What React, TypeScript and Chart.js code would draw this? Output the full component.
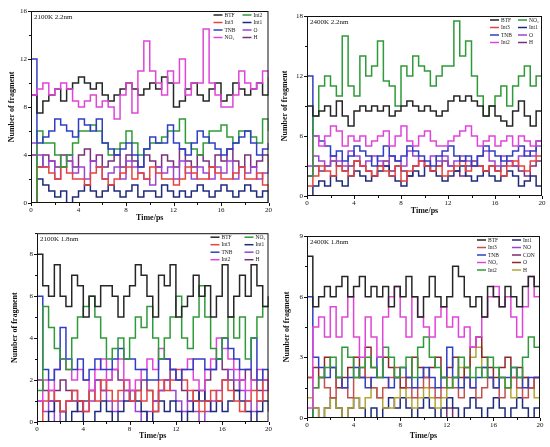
import React, { useEffect, useRef } from "react";
import { Chart, registerables } from "chart.js";
Chart.register(...registerables);

const FONT = "'Liberation Serif', 'Times New Roman', serif";

const times = [0, 0.5, 1, 1.5, 2, 2.5, 3, 3.5, 4, 4.5, 5, 5.5, 6, 6.5, 7, 7.5, 8, 8.5, 9, 9.5, 10, 10.5, 11, 11.5, 12, 12.5, 13, 13.5, 14, 14.5, 15, 15.5, 16, 16.5, 17, 17.5, 18, 18.5, 19, 19.5, 20];
const xTicks = [0, 4, 8, 12, 16, 20];

// Panel 1: 2100K 2.2nm
const p1BTF = [9, 7.5, 8.5, 9, 9.5, 8.5, 9.5, 10, 10.5, 10, 9.5, 10, 9, 8.5, 9, 9.5, 10, 9.5, 9, 9.5, 10, 9.5, 10.5, 10, 8, 8.5, 9.5, 10, 9, 8.5, 9.5, 10, 8.5, 9, 10, 9.5, 9, 9.5, 10, 9, 10.5];
const p1Int3 = [0, 3, 3, 2.5, 2, 3, 2.5, 2, 2, 1.5, 2.5, 3, 2, 1.5, 2, 2.5, 3, 2, 2.5, 2, 3, 2.5, 2, 2, 1.5, 2, 3, 2.5, 2, 2, 3, 2.5, 2, 2, 2.5, 3, 2, 2, 2.5, 1.5, 1];
const p1TNB = [12, 5, 5.5, 6, 7, 6.5, 6, 5.5, 7, 6.5, 6, 7, 5, 4.5, 4, 4.5, 5, 4, 3, 4.5, 5.5, 5, 5, 6.5, 5, 4.5, 4, 5, 6, 5.5, 5, 4.5, 4, 4.5, 5, 5.5, 6, 5, 4, 4.5, 5];
const p1NO2 = [9, 9.5, 10, 9, 9.5, 10, 9.5, 8.5, 8, 8.5, 9, 8, 8.5, 8, 7, 9, 10, 7.5, 11, 13.5, 11, 10, 9, 11, 10, 12, 9, 10, 10, 14.5, 10, 9, 8, 8, 9, 11, 10, 9.5, 10, 11, 10.5];
const p1Int2 = [0, 6, 5, 5, 4, 3, 4, 5, 6, 6, 6.5, 6, 5, 4, 4.5, 5, 6, 5, 4, 4.5, 5, 5, 5.5, 6, 6, 7, 5, 4.5, 4, 5, 6, 6, 6.5, 5.5, 5, 6, 6, 5.5, 5, 7, 6];
const p1Int1 = [0, 2, 1.5, 1, 0.5, 1, 0, 0.5, 1, 1.5, 1, 0.5, 1, 1.5, 1, 0.5, 1, 1.5, 0.5, 1, 1, 0.5, 1.5, 1, 0.5, 1, 0.5, 1, 1.5, 1, 0.5, 1, 1.5, 1, 0.5, 1, 1.5, 1, 0.5, 1, 0];
const p1O = [5, 4, 3, 3.5, 2, 3, 4, 2.5, 3, 2, 3.5, 3, 2, 2.5, 3, 2, 3.5, 3, 2.5, 2, 1.5, 3, 2.5, 3, 2, 3.5, 2.5, 2, 3, 2.5, 2, 3, 2.5, 3.5, 2, 3, 2.5, 3, 2, 2.5, 3];
const p1H = [4, 3, 4, 3.5, 3, 4, 3.5, 3, 4, 4.5, 3.5, 4, 3, 3.5, 4, 3, 4, 3.5, 3, 4, 3.5, 3, 4, 3.5, 3, 4.5, 3.5, 3, 4, 3.5, 3, 4, 3.5, 4.5, 3.5, 3, 4, 3, 3.5, 4, 3];

// Panel 2: 2400K 2.2nm
const p2BTF = [9, 8, 8.5, 9, 8, 9.5, 8, 7, 8.5, 9, 8.5, 9, 8.5, 9, 8, 8.5, 9, 9.5, 9, 8.5, 9, 8.5, 8, 8.5, 9.5, 10, 9.5, 10, 9.5, 9, 8, 9, 8, 7.5, 7, 8.5, 9.5, 8, 7, 8.5, 9];
const p2Int3 = [1, 2, 3, 2.5, 2, 3, 2.5, 2, 3.5, 3, 2.5, 2, 3, 2.5, 2, 3, 1.5, 2.5, 3, 3.5, 3, 2.5, 3, 2, 2.5, 3, 3.5, 2.5, 3, 3, 2.5, 3, 2.5, 2, 3, 3.5, 3, 2.5, 3.5, 4, 3];
const p2TNB = [12, 6, 5.5, 5, 4, 4.5, 3.5, 4, 5, 4.5, 4, 3, 4, 5, 4, 3.5, 4, 5, 4.5, 4, 3.5, 3, 4, 4.5, 5, 4, 3.5, 4, 3, 4, 5, 4.5, 4, 3.5, 4, 4.5, 5, 4, 4.5, 5.5, 5];
const p2Int2 = [2, 6, 5, 6, 7, 6.5, 5, 6, 5.5, 6, 5, 5.5, 6, 6.5, 5, 6, 7, 5.5, 5, 6, 6.5, 5.5, 5, 5, 5.5, 6, 6.5, 7, 6, 5, 5.5, 6, 5, 5.5, 6, 5, 6, 5.5, 5, 5.5, 6];
const p2NO2 = [2, 8, 11, 12, 11, 10, 16, 11, 10, 14, 12, 13, 15.5, 11.5, 11, 9, 13, 12, 14, 13, 12.5, 11, 12, 13, 13, 17.5, 14, 15.5, 12, 10, 8, 9, 10, 11, 9, 11, 12, 13, 11, 12, 12];
const p2Int1 = [0, 1, 1.5, 1, 2, 1.5, 1, 2, 2.5, 2, 1.5, 2, 2.5, 3, 2, 1.5, 1, 2, 2.5, 2, 3, 2.5, 2, 1.5, 2, 2.5, 3, 2, 1.5, 2, 2.5, 2, 1.5, 2, 2.5, 2, 1, 1.5, 2, 1, 0];
const p2O = [3, 4, 3.5, 3, 4, 3.5, 3, 4.5, 4, 3, 3.5, 4, 3.5, 3, 4, 3.5, 3, 4.5, 4, 3.5, 3, 4, 3.5, 4, 3, 3.5, 4, 3.5, 3, 4, 4.5, 3.5, 3, 4, 3.5, 3, 4, 4.5, 4, 5, 4];
const p2H = [2, 3, 2.5, 3, 3.5, 3, 2.5, 3, 3.5, 3, 2.5, 2, 3, 3.5, 2.5, 3, 2.5, 2, 3, 3.5, 3, 2.5, 3, 3.5, 3, 2.5, 2, 3, 3.5, 3, 2.5, 3, 2.5, 3, 3.5, 3, 2.5, 2, 3, 3.5, 3];

// Panel 3: 2100K 1.8nm
const p3BTF = [8, 6.5, 6, 7.5, 6, 5.5, 7, 6.5, 5, 6, 5.5, 6.5, 6.5, 6, 5, 6, 6.5, 7.5, 7, 6, 5, 7, 6.5, 7.5, 5, 5.5, 6, 7, 6, 6.5, 5, 6, 7.5, 5, 6, 7, 6, 7.5, 6.5, 5.5, 6];
const p3Int3 = [0, 1, 1.5, 1, 0.5, 1, 1.5, 1, 0.5, 1.5, 1, 2, 1.5, 1, 1.5, 2, 1, 1.5, 1, 1.5, 0.5, 2, 1.5, 2, 2.5, 2, 1.5, 1, 0.5, 1, 1.5, 1, 2, 1.5, 1, 0.5, 1, 1.5, 1, 2, 1];
const p3TNB = [6, 2.5, 2, 2.5, 4.5, 3, 2.5, 3, 2, 2.5, 3, 2.5, 2.5, 3, 3.5, 3, 3, 2.5, 2.5, 2, 2, 3, 3, 2.5, 2, 2.5, 2.5, 3, 3, 2.5, 2.5, 3, 4, 3.5, 3, 2.5, 2.5, 4, 2, 2.5, 2.5];
const p3Int2 = [1, 2, 1.5, 2.5, 3, 2.5, 2, 2.5, 2, 1.5, 2.5, 3, 2, 2.5, 3, 2, 1.5, 2, 2.5, 3, 2.5, 3.5, 3, 2.5, 2, 2.5, 3, 2, 1.5, 2.5, 3, 4, 3.5, 3, 2.5, 2, 1.5, 2, 2.5, 2, 1.5];
const p3NO2 = [1.5, 5.5, 4.5, 3.5, 3, 2.5, 4, 5, 5.5, 6, 5, 4, 3, 3.5, 4, 3, 4, 5, 4.5, 5.5, 4, 3, 4, 5, 6, 4, 3.5, 5, 6.5, 5, 3.5, 3, 4, 5, 4, 5, 3, 4, 5, 5.5, 6];
const p3Int1 = [0, 0, 0.5, 1, 0.5, 0, 0.5, 1, 0, 0, 0.5, 1, 0.5, 0, 0.5, 1, 1.5, 1, 0.5, 0, 0.5, 1, 0.5, 1, 0.5, 0, 0.5, 1, 1.5, 1, 0.5, 1, 0.5, 1, 1.5, 1, 0.5, 0, 0.5, 1, 0.5];
const p3O = [1, 0.5, 1, 0, 0.5, 1, 1.5, 1, 0.5, 1, 2, 1.5, 1, 0.5, 1, 1.5, 1, 0.5, 0, 0.5, 1, 1.5, 2, 1.5, 1, 0.5, 1, 0.5, 0, 0.5, 1, 1.5, 2, 2.5, 2, 1.5, 1, 0.5, 1, 1.5, 2];
const p3H = [2, 1.5, 1, 1.5, 2, 1.5, 1, 0.5, 1, 1.5, 2, 1.5, 2, 2.5, 2, 1.5, 1, 1.5, 2, 1.5, 1, 1.5, 2, 2.5, 2, 1.5, 1, 1.5, 1, 2, 2.5, 3, 2.5, 2, 1.5, 2, 2.5, 2, 1.5, 2, 2.5];

// Panel 4: 2400K 1.8nm
const p4BTF = [8, 5.5, 6, 6.5, 6, 6.5, 7, 6, 6.5, 7, 6, 6.5, 6, 6.5, 5.5, 6.5, 6, 7, 6, 5, 6, 7, 6, 5.5, 6, 7.5, 7, 6, 5.5, 6, 5, 6.5, 6, 5.5, 6.5, 6, 5.5, 6.5, 7, 6.5, 7];
const p4Int3 = [2, 1.5, 2, 1.5, 1, 2, 1.5, 1, 2, 2.5, 2, 1.5, 1, 1.5, 2, 2.5, 2, 1.5, 1, 1.5, 2, 1.5, 1, 1.5, 2, 1.5, 1, 2, 1.5, 1, 1.5, 2, 1.5, 1, 1.5, 2, 1.5, 1, 1.5, 2, 1];
const p4TNB = [6, 3, 2.5, 2, 2.5, 2, 1.5, 2, 2.5, 2, 1.5, 2, 3, 2, 1.5, 2, 2.5, 2, 1.5, 2, 2.5, 2, 1.5, 2, 3.5, 2, 1.5, 2, 1.5, 2, 2.5, 2, 1.5, 2, 2, 2.5, 2, 1.5, 2, 2, 1];
const p4NO2 = [0.5, 4.5, 5, 4, 5.5, 4, 5, 6, 4, 3, 5, 4, 3, 5, 6, 6.5, 5, 4, 6, 5, 4.5, 4, 5, 5.5, 4.5, 5, 4, 4.5, 3.5, 4, 5, 6, 6.5, 5.5, 6, 5, 4, 5.5, 7, 6, 4];
const p4Int2 = [0, 1.5, 2, 2.5, 3, 2, 3.5, 3, 2, 2.5, 3, 2.5, 2, 3.5, 3, 2, 2.5, 3, 2, 3.5, 4, 3, 2.5, 2, 1.5, 2, 3, 2.5, 2, 2.5, 2, 3, 2.5, 2, 1.5, 2.5, 2, 3, 4, 3.5, 2];
const p4Int1 = [0, 0.5, 0, 0.5, 1, 0.5, 0, 0.5, 1, 0.5, 0, 0.5, 0, 0.5, 1, 0.5, 1, 0.5, 0, 0.5, 1, 0.5, 0, 0.5, 1, 0.5, 0, 0.5, 1, 0.5, 0, 0.5, 1, 0.5, 0, 0.5, 1, 0.5, 0, 0.5, 0];
const p4NO = [0, 0, 0, 0, 0, 0, 0, 0, 0, 0, 0, 0, 0, 0, 0, 0, 0, 0, 0, 0, 0, 0, 0, 0, 0, 0, 0, 0, 0, 0, 0, 0, 0, 0, 0, 0, 0, 0, 0, 0, 0];
const p4CON = [0, 0, 0, 0, 0, 0, 0, 0, 0, 0, 0, 0, 0, 0, 0, 0, 0, 0, 0, 0, 0, 0, 0, 0, 0.5, 0, 0, 0, 0, 0, 0, 0, 0, 0, 0, 0, 0, 0, 0, 0, 0];
const p4O = [2, 2.5, 2, 3, 2.5, 1.5, 2, 2.5, 3, 2, 3.5, 2.5, 2, 3, 2.5, 2, 1.5, 2, 3, 2.5, 2, 2.5, 3, 2, 2.5, 3, 2, 2.5, 3.5, 4, 3, 2.5, 2, 2.5, 3, 2, 2.5, 2, 1.5, 2, 2.5];
const p4H = [1, 0.5, 0, 0.5, 1, 0.5, 0, 0.5, 1, 0.5, 1, 1.5, 1, 0.5, 0.5, 1, 1.5, 1, 0.5, 1, 1.5, 1, 0.5, 1, 1.5, 2, 2.5, 2, 3, 3.5, 2.5, 2, 1.5, 2, 1.5, 1, 1.5, 2, 1.5, 1, 1.5];

const C = {
  black: "#262626",
  red: "#e5433f",
  blue: "#2f3fc2",
  magenta: "#e044d8",
  green: "#2f9a38",
  navy: "#1f2a7c",
  violet: "#9a44d2",
  purple: "#7a2e7e",
  brownRed: "#c25050",
  darkRed: "#8c2828",
  olive: "#b3a434",
  conPurple: "#7c2c6c",
};

type Series = { label: string; color: string; data: number[] };
type Panel = {
  title: string;
  left: number; top: number; width: number; height: number;
  plot: { l: number; t: number; r: number; b: number };
  yMax: number; yStep: number; yTicks: number[];
  yTitleX: number; xTitleY: number;
  series: Series[];
  legendL: number[]; legendR: number[];
  legCol1: number; legCol2: number;
};

const panels: Panel[] = [
  {
    title: "2100K 2.2nm", left: 0, top: 0, width: 275, height: 225,
    plot: { l: 31, t: 11, r: 270, b: 203 }, yMax: 16, yStep: 4, yTicks: [0, 4, 8, 12, 16],
    yTitleX: 12, xTitleY: 218,
    series: [
      { label: "NO\u2082", color: C.magenta, data: p1NO2 },
      { label: "BTF", color: C.black, data: p1BTF },
      { label: "TNB", color: C.blue, data: p1TNB },
      { label: "Int2", color: C.green, data: p1Int2 },
      { label: "Int3", color: C.red, data: p1Int3 },
      { label: "Int1", color: C.navy, data: p1Int1 },
      { label: "O", color: C.violet, data: p1O },
      { label: "H", color: C.purple, data: p1H },
    ],
    legendL: [1, 4, 2, 0], legendR: [3, 5, 6, 7], legCol1: 55, legCol2: 26,
  },
  {
    title: "2400K 2.2nm", left: 275, top: 0, width: 275, height: 225,
    plot: { l: 32, t: 16, r: 267, b: 196 }, yMax: 18, yStep: 6, yTicks: [0, 6, 12, 18],
    yTitleX: 10, xTitleY: 211,
    series: [
      { label: "BTF", color: C.black, data: p2BTF },
      { label: "NO\u2082", color: C.green, data: p2NO2 },
      { label: "Int2", color: C.magenta, data: p2Int2 },
      { label: "TNB", color: C.blue, data: p2TNB },
      { label: "Int3", color: C.red, data: p2Int3 },
      { label: "Int1", color: C.navy, data: p2Int1 },
      { label: "O", color: C.violet, data: p2O },
      { label: "H", color: C.purple, data: p2H },
    ],
    legendL: [0, 4, 3, 2], legendR: [1, 5, 6, 7], legCol1: 52, legCol2: 24,
  },
  {
    title: "2100K 1.8nm", left: 0, top: 225, width: 275, height: 222,
    plot: { l: 37, t: 7, r: 272, b: 197 }, yMax: 9, yStep: 2, yTicks: [0, 2, 4, 6, 8],
    yTitleX: 15, xTitleY: 211,
    series: [
      { label: "BTF", color: C.black, data: p3BTF },
      { label: "NO\u2082", color: C.green, data: p3NO2 },
      { label: "TNB", color: C.blue, data: p3TNB },
      { label: "Int2", color: C.magenta, data: p3Int2 },
      { label: "Int3", color: C.red, data: p3Int3 },
      { label: "Int1", color: C.navy, data: p3Int1 },
      { label: "O", color: C.violet, data: p3O },
      { label: "H", color: C.purple, data: p3H },
    ],
    legendL: [0, 4, 2, 3], legendR: [1, 5, 6, 7], legCol1: 58, legCol2: 24,
  },
  {
    title: "2400K 1.8nm", left: 275, top: 225, width: 275, height: 222,
    plot: { l: 32, t: 11, r: 265, b: 193 }, yMax: 9, yStep: 3, yTicks: [0, 3, 6, 9],
    yTitleX: 12, xTitleY: 211,
    series: [
      { label: "BTF", color: C.black, data: p4BTF },
      { label: "NO\u2082", color: C.magenta, data: p4NO2 },
      { label: "Int2", color: C.green, data: p4Int2 },
      { label: "TNB", color: C.blue, data: p4TNB },
      { label: "Int3", color: C.brownRed, data: p4Int3 },
      { label: "O", color: C.darkRed, data: p4O },
      { label: "H", color: C.olive, data: p4H },
      { label: "Int1", color: C.navy, data: p4Int1 },
      { label: "NO", color: C.violet, data: p4NO },
      { label: "CON", color: C.conPurple, data: p4CON },
    ],
    legendL: [0, 4, 3, 1, 2], legendR: [7, 8, 9, 5, 6], legCol1: 63, legCol2: 28,
  },
];

function makePlugin(p: Panel) {
  return {
    id: "frame" + p.title,
    afterDraw(chart: any) {
      const { ctx, chartArea: a } = chart;
      const xs = chart.scales.x;
      const ys = chart.scales.y;
      ctx.save();
      ctx.strokeStyle = "#111";
      ctx.lineWidth = 1;
      ctx.strokeRect(a.left + 0.5, a.top + 0.5, a.width - 1, a.height - 1);
      ctx.beginPath();
      for (let v = 0; v <= 20; v += 2) {
        const x = Math.round(xs.getPixelForValue(v)) + 0.5;
        const len = v % 4 === 0 ? 3 : 2;
        ctx.moveTo(x, a.bottom);
        ctx.lineTo(x, a.bottom + len);
      }
      const half = p.yStep / 2;
      for (let v = 0; v <= p.yMax + 0.001; v += half) {
        const y = Math.round(ys.getPixelForValue(v)) + 0.5;
        const major = Math.abs(v / p.yStep - Math.round(v / p.yStep)) < 0.001;
        ctx.moveTo(a.left, y);
        ctx.lineTo(a.left - (major ? 3 : 2), y);
      }
      ctx.stroke();

      ctx.fillStyle = "#111";
      ctx.font = `7px ${FONT}`;
      ctx.textBaseline = "middle";
      ctx.textAlign = "left";
      ctx.fillText(p.title, a.left + 3, a.top + 6);

      const rowH = 7.5;
      const drawCol = (idxs: number[], off: number) => {
        idxs.forEach((si, r) => {
          const s = p.series[si];
          const y = a.top + 4 + r * rowH;
          const x0 = a.right - off;
          ctx.strokeStyle = s.color;
          ctx.lineWidth = 1.5;
          ctx.beginPath();
          ctx.moveTo(x0, y);
          ctx.lineTo(x0 + 9, y);
          ctx.stroke();
          ctx.fillStyle = "#222";
          ctx.font = `5.5px ${FONT}`;
          ctx.fillText(s.label, x0 + 11, y + 0.3);
        });
      };
      drawCol(p.legendL, p.legCol1);
      drawCol(p.legendR, p.legCol2);

      ctx.fillStyle = "#111";
      ctx.font = `bold 8px ${FONT}`;
      ctx.textAlign = "center";
      ctx.fillText("Time/ps", (a.left + a.right) / 2, p.xTitleY);
      ctx.save();
      ctx.translate(p.yTitleX, (a.top + a.bottom) / 2);
      ctx.rotate(-Math.PI / 2);
      ctx.fillText("Number of fragment", 0, 0);
      ctx.restore();
      ctx.restore();
    },
  };
}

function PanelChart({ p }: { p: Panel }) {
  const ref = useRef<HTMLCanvasElement | null>(null);
  useEffect(() => {
    if (!ref.current) return;
    const datasets = p.series.map((s) => ({
      label: s.label,
      data: times.map((t, i) => ({ x: t, y: s.data[i] })),
      borderColor: s.color,
      backgroundColor: s.color,
      borderWidth: 1.5,
      pointRadius: 0,
      stepped: "before" as const,
      fill: false,
    }));
    const chart = new Chart(ref.current, {
      type: "line",
      data: { datasets },
      options: {
        animation: false,
        responsive: false,
        maintainAspectRatio: false,
        devicePixelRatio: 1,
        layout: { padding: { left: 0, top: p.plot.t, right: p.width - p.plot.r, bottom: 0 } },
        plugins: { legend: { display: false }, tooltip: { enabled: false } },
        scales: {
          x: {
            type: "linear",
            min: 0,
            max: 20,
            afterBuildTicks: (scale: any) => {
              scale.ticks = xTicks.map((v) => ({ value: v }));
            },
            afterFit: (scale: any) => {
              scale.height = p.height - p.plot.b;
            },
            grid: { display: false, drawTicks: false },
            border: { display: false },
            ticks: { color: "#111", font: { family: FONT, size: 7 }, padding: 3, maxRotation: 0 },
          },
          y: {
            type: "linear",
            min: 0,
            max: p.yMax,
            afterBuildTicks: (scale: any) => {
              scale.ticks = p.yTicks.map((v) => ({ value: v }));
            },
            afterFit: (scale: any) => {
              scale.width = p.plot.l;
            },
            grid: { display: false, drawTicks: false },
            border: { display: false },
            ticks: { color: "#111", font: { family: FONT, size: 7 }, padding: 4 },
          },
        },
      },
      plugins: [makePlugin(p)],
    });
    return () => chart.destroy();
  }, [p]);
  return (
    <canvas
      ref={ref}
      width={p.width}
      height={p.height}
      style={{ position: "absolute", left: p.left, top: p.top, width: p.width, height: p.height }}
    />
  );
}

export default function App() {
  return (
    <div style={{ position: "fixed", left: 0, top: 0, width: 550, height: 447, background: "#fff", overflow: "hidden" }}>
      {panels.map((p) => (
        <PanelChart key={p.title} p={p} />
      ))}
    </div>
  );
}
